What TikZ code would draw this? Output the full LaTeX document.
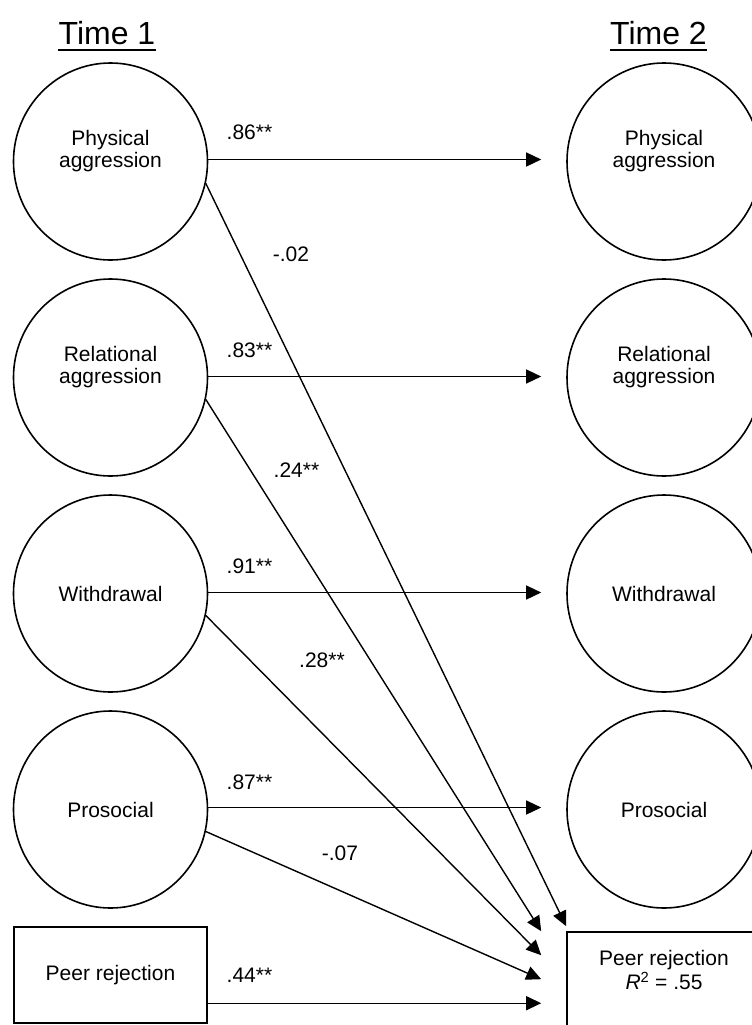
\documentclass[tikz,border=0pt]{standalone}
\usepackage{fontspec}
\setmainfont{Liberation Sans}
\usetikzlibrary{arrows.meta,shapes.geometric}
\begin{document}
\begin{tikzpicture}[x=1pt,y=-1pt,
  every node/.style={font=\fontsize{21}{22}\selectfont},
  latent/.style={draw, line width=1.6pt, ellipse, minimum width=194pt,
    minimum height=197pt, inner sep=0pt},
  twoline/.style={align=center, anchor=center, yshift=10pt},
  obsbox/.style={draw, line width=1.6pt, rectangle, minimum width=193pt,
    minimum height=96pt, inner sep=0pt},
  effect/.style={line width=1.4pt, -{Triangle[length=15pt,width=14pt]}},
  stab/.style={effect, shorten >=25pt},
  coef/.style={inner sep=0pt},
  wave/.style={font=\fontsize{32}{32}\selectfont, inner sep=0pt, anchor=base},
  uline/.style={line width=2pt}
]
\useasboundingbox (0,0) rectangle (752,1025);

% wave headings
\node[wave] (T1) at (107,45) {Time 1};
\node[wave] (T2) at (658.5,45) {Time 2};
\draw[uline] ([yshift=-5pt]T1.base west) -- ([yshift=-5pt]T1.base east);
\draw[uline] ([yshift=-5pt]T2.base west) -- ([yshift=-5pt]T2.base east);

% Time 1 constructs
\node[latent, label={[twoline]center:Physical\\aggression}] (L1) at (110.5,161.5) {};
\node[latent, label={[twoline]center:Relational\\aggression}] (L2) at (110.5,377.5) {};
\node[latent] (L3) at (110.5,593.5) {Withdrawal};
\node[latent] (L4) at (110.5,809.5) {Prosocial};
\node[obsbox] (LB) at (110.5,975) {Peer rejection};

% Time 2 constructs
\node[latent, label={[twoline]center:Physical\\aggression}] (R1) at (664,161.5) {};
\node[latent, label={[twoline]center:Relational\\aggression}] (R2) at (664,377.5) {};
\node[latent] (R3) at (664,593.5) {Withdrawal};
\node[latent] (R4) at (664,809.5) {Prosocial};
\node[obsbox, minimum width=194pt,
  label={[align=center, anchor=north, yshift=-16pt,
          font=\fontsize{21}{24}\selectfont]north:{Peer rejection\\\textit{R}\textsuperscript{2} = .55}}]
  (RB) at (664,980) {};

% arrow ends in front of the outcome box
\coordinate (t1) at ([yshift=5pt]RB.north west);
\coordinate (t2) at ([xshift=-25pt]RB.north west);
\coordinate (t3) at ([xshift=-25pt,yshift=-24pt]RB.north west);
\coordinate (t4) at ([xshift=-25pt,yshift=-48pt]RB.north west);
\coordinate (t5) at ([xshift=-25pt,yshift=-72pt]RB.north west);

% stability paths
\draw[stab] ([yshift=2pt]L1.east) -- ([yshift=2pt]R1.west);
\draw[stab] ([yshift=1pt]L2.east) -- ([yshift=1pt]R2.west);
\draw[stab] ([yshift=1pt]L3.east) -- ([yshift=1pt]R3.west);
\draw[stab] ([yshift=2pt]L4.east) -- ([yshift=2pt]R4.west);

% cross-lagged paths to peer rejection
\draw[effect] (L1.-13) -- (t1);
\draw[effect] (L2.-13) -- (t2);
\draw[effect] (L3.-13) -- (t3);
\draw[effect] (L4.-13) -- (t4);
\draw[effect] (LB.east |- t5) -- (t5);

% coefficients
\node[coef] (c1) at (249.5,132) {.86**};
\node[coef] (c2) at (249.5,350) {.83**};
\node[coef] (c3) at (249.5,566) {.91**};
\node[coef] (c4) at (249.5,782) {.87**};
\node[coef] (c5) at (249.5,975) {.44**};
\node[coef] (d1) at (291,254) {-.02};
\node[coef] (d2) at (296.5,470) {.24**};
\node[coef] (d3) at (322,660) {.28**};
\node[coef] (d4) at (340,853) {-.07};
\end{tikzpicture}
\end{document}
